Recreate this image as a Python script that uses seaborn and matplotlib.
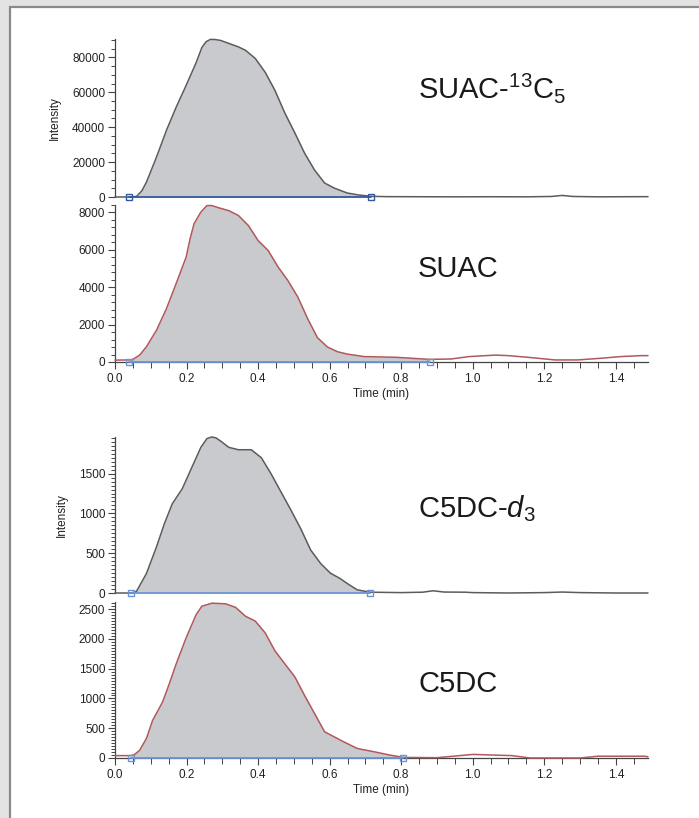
import numpy as np
import pandas as pd
import seaborn as sns
import matplotlib.pyplot as plt
from matplotlib.ticker import MultipleLocator, FormatStrFormatter
from matplotlib.patches import Rectangle

# SUAC-13C5 (internal standard)
suac13_t = [0.00, 0.04, 0.06, 0.075, 0.088, 0.116, 0.144, 0.171, 0.199, 0.226, 0.243,
            0.255, 0.267, 0.28, 0.295, 0.326, 0.345, 0.365, 0.392, 0.42, 0.447, 0.475,
            0.503, 0.53, 0.558, 0.586, 0.613, 0.649, 0.68, 0.715, 0.76, 0.85, 0.95,
            1.05, 1.15, 1.22, 1.25, 1.28, 1.35, 1.49]
suac13_i = [0, 0, 300, 3500, 8570, 22860, 38290, 51430, 64000, 76570, 85700,
            89000, 90300, 90200, 89700, 87400, 86000, 84000, 79400, 71400, 61100, 48000,
            36600, 25100, 15400, 8000, 5100, 2300, 1200, 400, 200, 150, 100,
            150, 100, 300, 900, 300, 100, 200]

# SUAC
suac_t = [0.00, 0.04, 0.05, 0.069, 0.088, 0.116, 0.144, 0.171, 0.199, 0.21, 0.221,
          0.24, 0.257, 0.271, 0.29, 0.318, 0.345, 0.373, 0.40, 0.428, 0.456, 0.483,
          0.511, 0.539, 0.566, 0.594, 0.622, 0.65, 0.696, 0.787, 0.88, 0.939, 0.99,
          1.064, 1.10, 1.155, 1.23, 1.293, 1.358, 1.414, 1.47, 1.49]
suac_i = [100, 110, 140, 370, 820, 1700, 2860, 4200, 5620, 6600, 7400,
          8020, 8370, 8370, 8250, 8100, 7840, 7300, 6500, 5970, 5080, 4370,
          3480, 2300, 1300, 800, 550, 420, 290, 250, 140, 160, 290,
          370, 340, 250, 110, 110, 200, 290, 340, 340]

# C5DC-d3 (internal standard)
c5dcd3_t = [0.00, 0.045, 0.06, 0.088, 0.116, 0.138, 0.16, 0.188, 0.215, 0.24, 0.257,
            0.27, 0.282, 0.298, 0.318, 0.345, 0.381, 0.409, 0.436, 0.464, 0.492, 0.519,
            0.547, 0.575, 0.602, 0.63, 0.649, 0.677, 0.713, 0.80, 0.86, 0.889, 0.92,
            0.98, 1.0, 1.1, 1.2, 1.25, 1.3, 1.4, 1.49]
c5dcd3_i = [0, 0, 20, 246, 580, 870, 1120, 1310, 1580, 1830, 1940,
            1960, 1950, 1900, 1830, 1800, 1800, 1700, 1500, 1270, 1040, 810,
            540, 370, 250, 180, 120, 40, 10, 5, 10, 28, 12,
            10, 5, 0, 5, 12, 5, 0, 0]

# C5DC
c5dc_t = [0.00, 0.045, 0.055, 0.069, 0.088, 0.105, 0.133, 0.152, 0.171, 0.199, 0.227,
          0.243, 0.271, 0.309, 0.337, 0.365, 0.392, 0.42, 0.447, 0.475, 0.503, 0.53,
          0.558, 0.586, 0.613, 0.64, 0.677, 0.724, 0.768, 0.806, 0.9, 1.0, 1.11,
          1.16, 1.3, 1.35, 1.48, 1.49]
c5dc_i = [40, 40, 60, 130, 330, 630, 940, 1250, 1580, 2020, 2410,
          2550, 2600, 2590, 2530, 2380, 2300, 2100, 1800, 1580, 1360, 1050,
          745, 440, 355, 270, 160, 105, 50, 10, 5, 60, 40,
          0, 0, 30, 30, 20]

panels = [
    dict(t=suac13_t, i=suac13_i, line="#5b5b5b", base="#34589e", lim=(0.04, 0.715),
         ymax=90500, major=20000, minor=5000, label=r"SUAC-$^{13}$C$_5$", xaxis=False),
    dict(t=suac_t, i=suac_i, line="#b0585c", base="#6a95d6", lim=(0.04, 0.88),
         ymax=8400, major=2000, minor=400, label="SUAC", xaxis=True),
    dict(t=c5dcd3_t, i=c5dcd3_i, line="#5b5b5b", base="#6a95d6", lim=(0.045, 0.713),
         ymax=1960, major=500, minor=50, label=r"C5DC-$d_3$", xaxis=False),
    dict(t=c5dc_t, i=c5dc_i, line="#b0585c", base="#6a95d6", lim=(0.045, 0.806),
         ymax=2620, major=500, minor=50, label="C5DC", xaxis=True),
]

sns.set_style("ticks")
plt.rcParams["font.family"] = ["Liberation Sans", "DejaVu Sans"]
plt.rcParams["mathtext.fontset"] = "custom"
plt.rcParams["mathtext.rm"] = "Liberation Sans"
plt.rcParams["mathtext.it"] = "Liberation Sans:italic"

W, H = 699, 818
fig = plt.figure(figsize=(W / 100, H / 100), dpi=100)
fig.patch.set_facecolor("#e3e3e3")
frame = Rectangle((10 / W, -0.01), 1.0, 1 - 6.5 / H + 0.01, transform=fig.transFigure,
                  facecolor="white", edgecolor="#8a8a8a", lw=1.6, zorder=-10)
fig.add_artist(frame)

left, right = 115, 648
boxes = [(39, 197), (205, 362), (437, 593), (602, 758)]
label_base = [98, 277, 517, 692]

for p, (top, bot), lb in zip(panels, boxes, label_base):
    ax = fig.add_axes([left / W, 1 - bot / H, (right - left) / W, (bot - top) / H])
    ax.set_zorder(1)
    ax.set_facecolor("none")
    df = pd.DataFrame({"time": p["t"], "intensity": p["i"]})
    t = np.array(p["t"])
    v = np.array(p["i"])
    a, b = p["lim"]
    ax.fill_between(t, v, 0, where=(t >= a) & (t <= b), color="#c9cacd", lw=0, zorder=1)
    sns.lineplot(data=df, x="time", y="intensity", ax=ax, color=p["line"], lw=1.1,
                 zorder=3, clip_on=False)
    ax.plot([a, b], [0, 0], color=p["base"], lw=1.3, zorder=4, clip_on=False)
    ax.plot([a, b], [0, 0], "s", mfc="none", mec=p["base"], mew=1.0, ms=5,
            zorder=5, clip_on=False)

    ax.set_xlim(0, 1.49)
    ax.set_ylim(0, p["ymax"])
    ax.yaxis.set_major_locator(MultipleLocator(p["major"]))
    ax.yaxis.set_minor_locator(MultipleLocator(p["minor"]))
    ax.tick_params(axis="y", which="major", length=5, width=0.8, color="#444444",
                   labelsize=8.5, pad=2, labelcolor="#222222")
    ax.tick_params(axis="y", which="minor", length=3, width=0.7, color="#444444")
    for s in ["top", "right"]:
        ax.spines[s].set_visible(False)
    ax.spines["left"].set_color("#444444")
    ax.spines["left"].set_linewidth(0.9)

    if p["xaxis"]:
        ax.xaxis.set_major_locator(MultipleLocator(0.2))
        ax.xaxis.set_minor_locator(MultipleLocator(0.05))
        ax.xaxis.set_major_formatter(FormatStrFormatter("%.1f"))
        ax.tick_params(axis="x", which="major", length=5, width=0.8, color="#444444",
                       labelsize=8.5, pad=3, labelcolor="#222222")
        ax.tick_params(axis="x", which="minor", length=4, width=0.7, color="#444444")
        ax.spines["bottom"].set_color("#444444")
        ax.spines["bottom"].set_linewidth(0.9)
        ax.set_xlabel("Time (min)", fontsize=8.5, labelpad=2, color="#222222")
    else:
        ax.spines["bottom"].set_visible(False)
        ax.set_xticks([])
        ax.set_xlabel("")

    if not p["xaxis"]:
        ax.set_ylabel("Intensity", fontsize=8.5, color="#222222", labelpad=8)
    else:
        ax.set_ylabel("")

    fig.text(418 / W, 1 - lb / H, p["label"], fontsize=21, color="#1a1a1a",
             ha="left", va="baseline")

fig.savefig("out.png", dpi=100, facecolor=fig.get_facecolor())
